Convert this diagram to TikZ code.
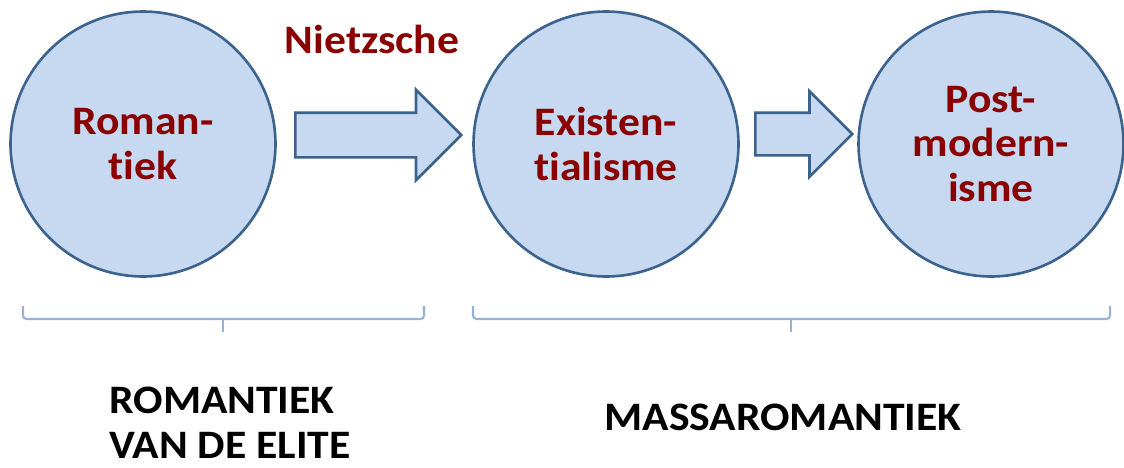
\documentclass[tikz,border=0pt]{standalone}
\usepackage{fontspec}
\setmainfont{Carlito}[FakeStretch=1.08, Ligatures=NoCommon]
\usetikzlibrary{shapes.arrows,positioning}
\definecolor{bubblefill}{RGB}{198,217,241}
\definecolor{bubbleline}{RGB}{60,98,142}
\definecolor{termred}{RGB}{138,0,0}
\definecolor{bracecol}{RGB}{149,179,215}

\begin{document}
\begin{tikzpicture}[x=0.02cm, y=-0.02cm,
  font=\fontsize{23}{25.5}\selectfont\bfseries,
  bubble/.style={circle, draw=bubbleline, fill=bubblefill, line width=1.5pt, minimum size=5.3cm, align=center, text=termred, inner sep=0pt},
  bigarrow/.style={single arrow, draw=bubbleline, fill=bubblefill, line width=1.5pt, inner xsep=0pt, anchor=tail},
  era/.style={align=left, inner sep=0pt},
  brace/.style={draw=bracecol, line width=1.2pt, rounded corners=2pt}]
  \useasboundingbox (0,0) rectangle (1124,467);
  \node[bubble] (rom) at (143,144) {Roman-\\tiek};
  \node[bubble] (exi) at (606,144) {Existen-\\tialisme};
  \node[bubble] (post) at (991,144) {Post-\\modern-\\isme};
  \node[bigarrow, minimum height=3.32cm, inner ysep=0.42cm, single arrow head extend=0.46cm] (nextA) at (294,135) {};
  \node[bigarrow, minimum height=1.94cm, inner ysep=0.40cm, single arrow head extend=0.43cm] (nextB) at (754,134) {};
  \node[text=termred, anchor=base] (nietz) at (372,53) {Nietzsche};
  \coordinate (tipA) at (223,332);
  \coordinate (tipB) at (791,332);
  \draw[brace] (23,306) |- (424,319) -- (424,306);
  \draw[brace] (223,319) -- (tipA);
  \draw[brace] (473,306) |- (1110,319) -- (1110,306);
  \draw[brace] (791,319) -- (tipB);
  \node[era, anchor=north west] (elite) at (109,387) {ROMANTIEK\\VAN DE ELITE};
  \node[era, anchor=base] (massa) at (783,430) {MASSAROMANTIEK};
\end{tikzpicture}
\end{document}
